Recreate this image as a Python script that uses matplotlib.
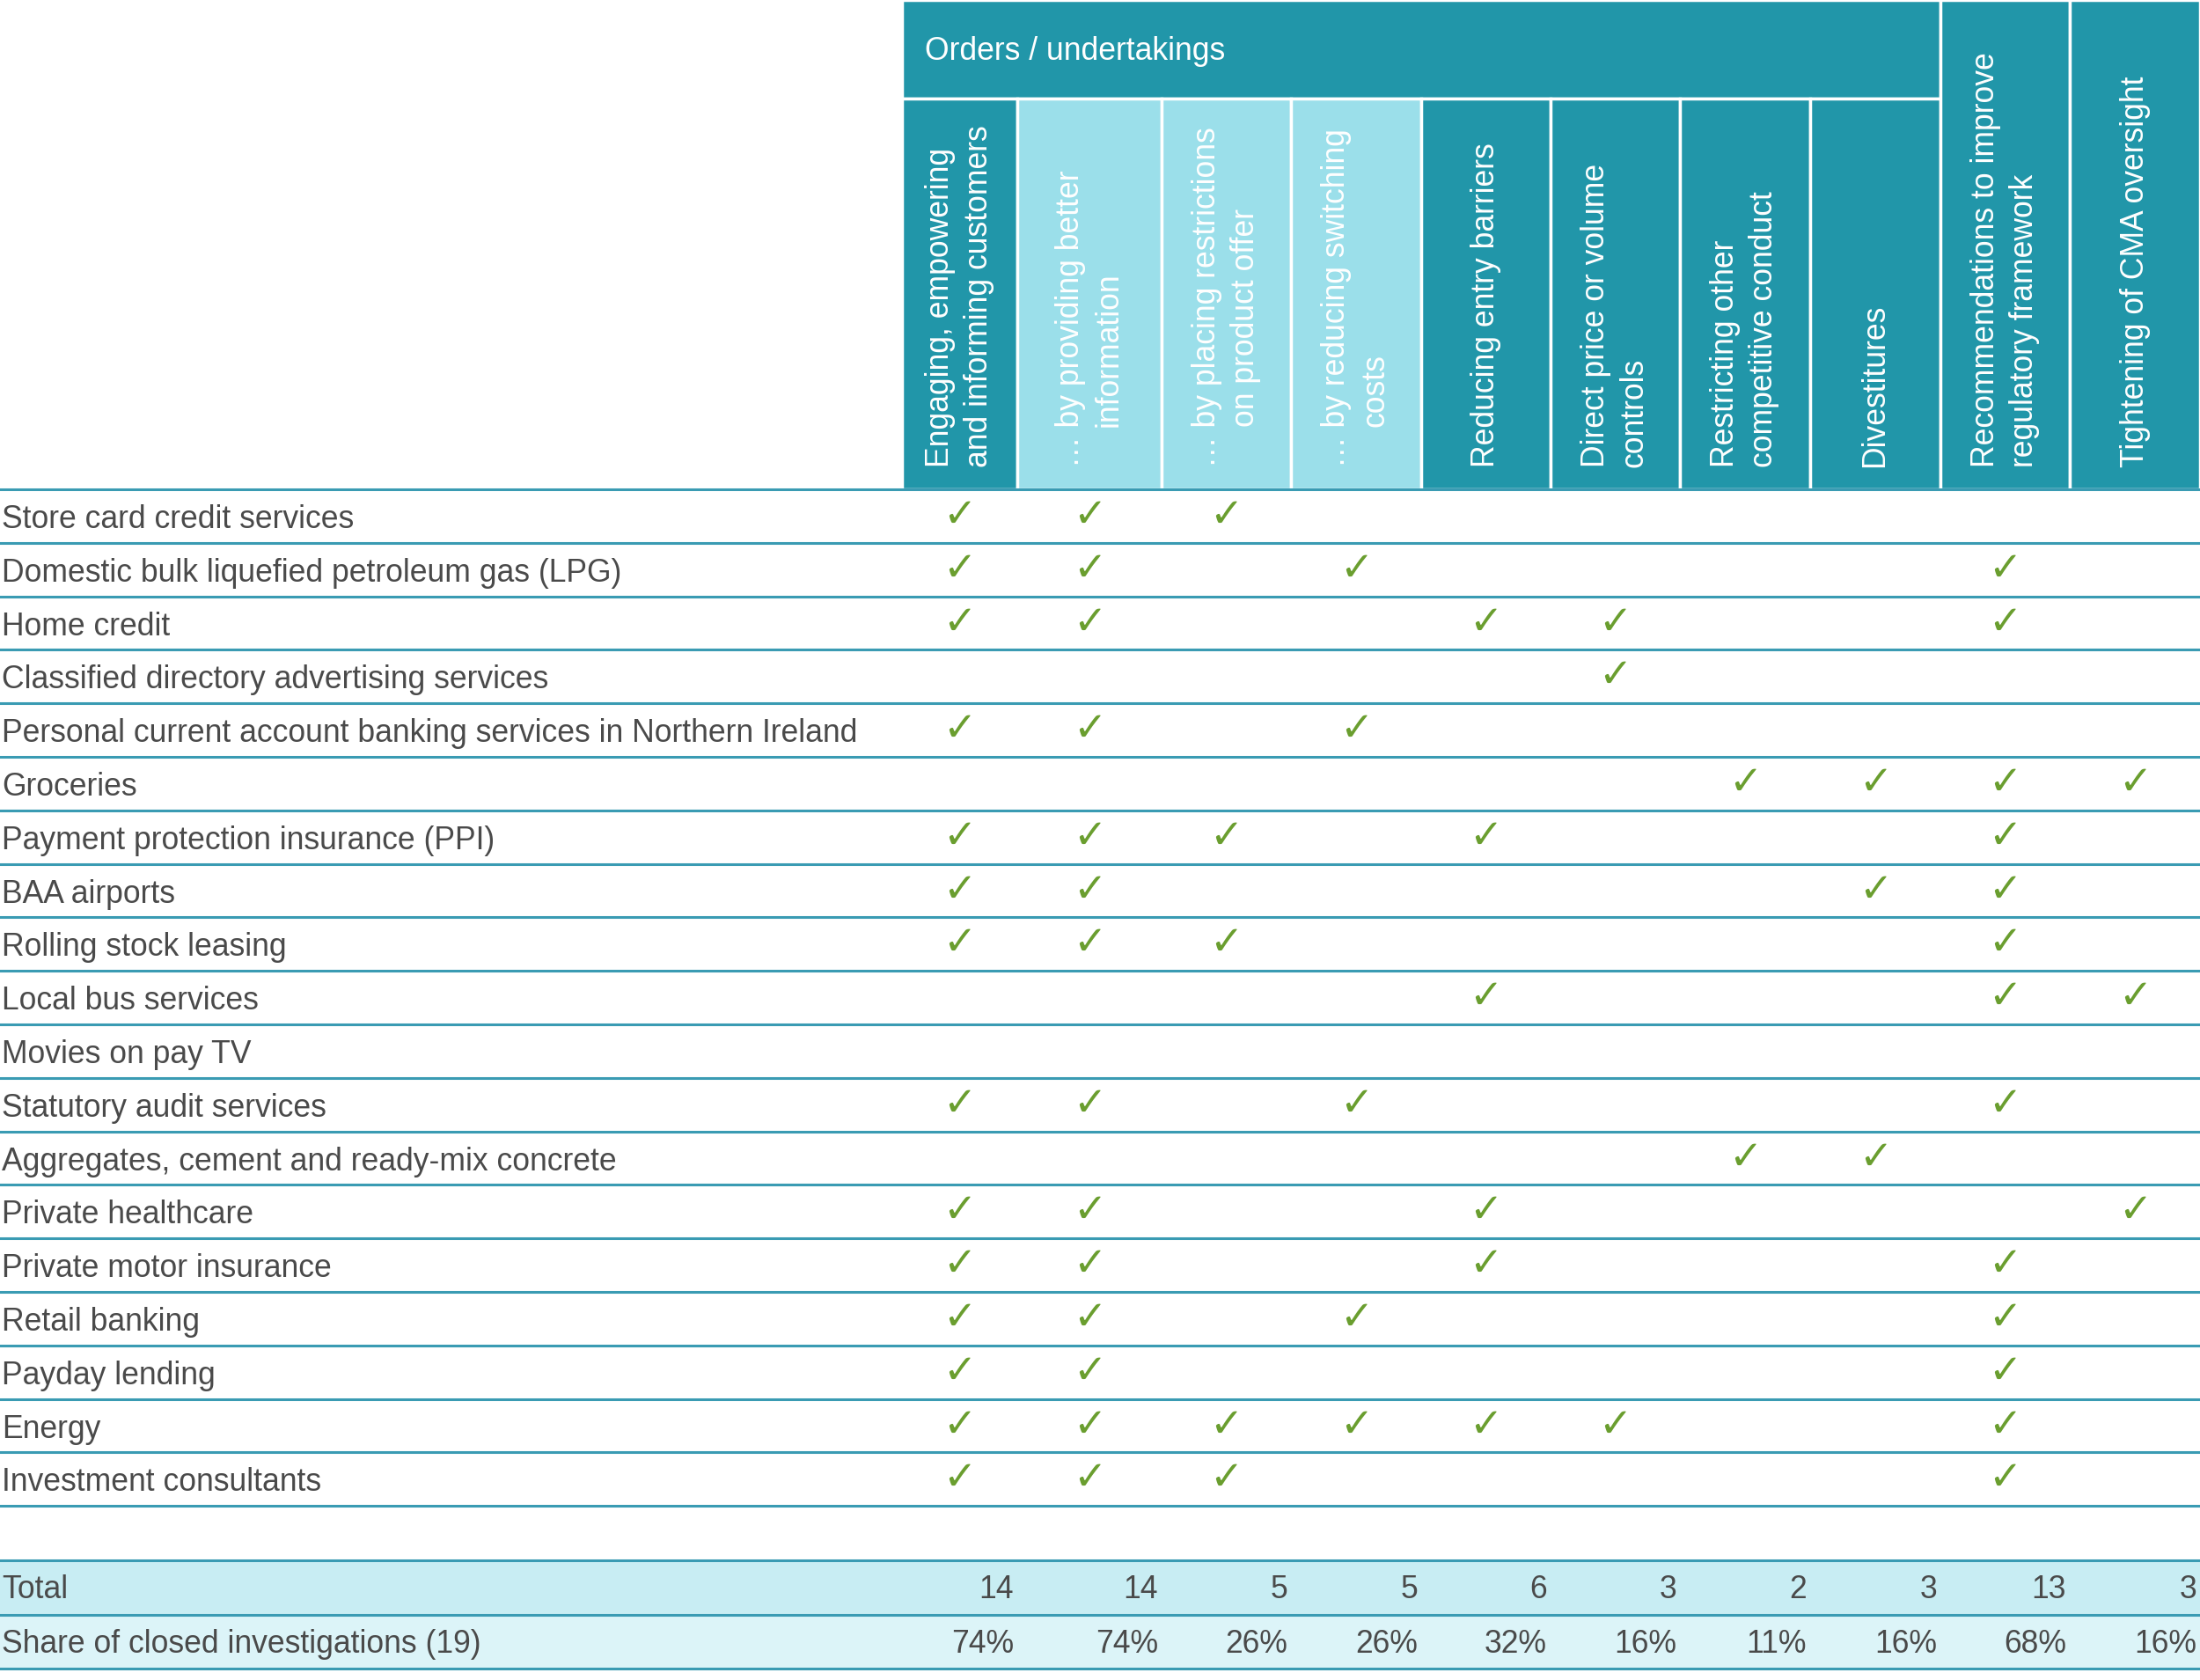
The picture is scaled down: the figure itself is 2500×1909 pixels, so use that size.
import matplotlib.pyplot as plt
from matplotlib.patches import Rectangle

# investigations (rows) and remedy types (columns)
investigations = [
    "Store card credit services",
    "Domestic bulk liquefied petroleum gas (LPG)",
    "Home credit",
    "Classified directory advertising services",
    "Personal current account banking services in Northern Ireland",
    "Groceries",
    "Payment protection insurance (PPI)",
    "BAA airports",
    "Rolling stock leasing",
    "Local bus services",
    "Movies on pay TV",
    "Statutory audit services",
    "Aggregates, cement and ready-mix concrete",
    "Private healthcare",
    "Private motor insurance",
    "Retail banking",
    "Payday lending",
    "Energy",
    "Investment consultants",
]

group_label = "Orders / undertakings"
remedy_headers = [
    ["Engaging, empowering", "and informing customers"],
    ["\u2026 by providing better", "information"],
    ["\u2026 by placing restrictions", "on product offer"],
    ["\u2026 by reducing switching", "costs"],
    ["Reducing entry barriers"],
    ["Direct price or volume", "controls"],
    ["Restricting other", "competitive conduct"],
    ["Divestitures"],
    ["Recommendations to improve", "regulatory framework"],
    ["Tightening of CMA oversight"],
]

# 1 = remedy used in that investigation
checks = [
    [1, 1, 1, 0, 0, 0, 0, 0, 0, 0],
    [1, 1, 0, 1, 0, 0, 0, 0, 1, 0],
    [1, 1, 0, 0, 1, 1, 0, 0, 1, 0],
    [0, 0, 0, 0, 0, 1, 0, 0, 0, 0],
    [1, 1, 0, 1, 0, 0, 0, 0, 0, 0],
    [0, 0, 0, 0, 0, 0, 1, 1, 1, 1],
    [1, 1, 1, 0, 1, 0, 0, 0, 1, 0],
    [1, 1, 0, 0, 0, 0, 0, 1, 1, 0],
    [1, 1, 1, 0, 0, 0, 0, 0, 1, 0],
    [0, 0, 0, 0, 1, 0, 0, 0, 1, 1],
    [0, 0, 0, 0, 0, 0, 0, 0, 0, 0],
    [1, 1, 0, 1, 0, 0, 0, 0, 1, 0],
    [0, 0, 0, 0, 0, 0, 1, 1, 0, 0],
    [1, 1, 0, 0, 1, 0, 0, 0, 0, 1],
    [1, 1, 0, 0, 1, 0, 0, 0, 1, 0],
    [1, 1, 0, 1, 0, 0, 0, 0, 1, 0],
    [1, 1, 0, 0, 0, 0, 0, 0, 1, 0],
    [1, 1, 1, 1, 1, 1, 0, 0, 1, 0],
    [1, 1, 1, 0, 0, 0, 0, 0, 1, 0],
]

total_label = "Total"
totals = [14, 14, 5, 5, 6, 3, 2, 3, 13, 3]
share_label = "Share of closed investigations (19)"
shares = [74, 74, 26, 26, 32, 16, 11, 16, 68, 16]

# colours
TEAL = "#2196a9"
LIGHT = "#9bdfea"
LINE = "#3a9bb3"
TOTAL_BG = "#c8edf3"
SHARE_BG = "#dcf4f8"
TEXT = "#4a4a4a"
GREEN = "#6a9e2f"
FONT = "Liberation Sans"
FS = 25.6

# layout in pixels
W, H = 2500, 1909
col_edges = [1025, 1156, 1320, 1467, 1615, 1762, 1909, 2057, 2205, 2352, 2500]
band_bottom = 112
header_bottom = 556
row_h = 60.8
total_top = 1773
share_top = 1835
share_bottom = 1896
light_cols = [1, 2, 3]
indented_cols = [1, 2, 3]

fig = plt.figure(figsize=(W / 100, H / 100), dpi=100)
ax = fig.add_axes([0, 0, 1, 1])
ax.set_xlim(0, W)
ax.set_ylim(H, 0)
ax.axis("off")

# header cells
ax.add_patch(Rectangle((col_edges[0], 0), col_edges[8] - col_edges[0], band_bottom,
                       facecolor=TEAL, edgecolor="white", lw=2.5))
ax.text(col_edges[0] + 26, band_bottom / 2 + 3, group_label, color="white", fontsize=FS,
        family=FONT, va="center", ha="left")
for i, lines in enumerate(remedy_headers):
    x0, x1 = col_edges[i], col_edges[i + 1]
    top = 0 if i >= 8 else band_bottom
    ax.add_patch(Rectangle((x0, top), x1 - x0, header_bottom - top,
                           facecolor=LIGHT if i in light_cols else TEAL,
                           edgecolor="white", lw=2.5))
    cx = (x0 + x1) / 2
    n = len(lines)
    for k, line in enumerate(lines):
        lx = cx + (k - (n - 1) / 2) * 44
        ly = header_bottom - 25
        if k > 0 and i in indented_cols:
            ly -= 46
        ax.text(lx, ly, line, rotation=90, color="white", fontsize=FS, family=FONT,
                ha="center", va="bottom")

# rows
ax.plot([0, W], [header_bottom, header_bottom], color=LINE, lw=2.2)
for r, name in enumerate(investigations):
    yc = header_bottom + (r + 0.5) * row_h
    ax.text(2, yc + 4, name, color=TEXT, fontsize=FS, family=FONT, va="center", ha="left")
    for c, v in enumerate(checks[r]):
        if v:
            cx = (col_edges[c] + col_edges[c + 1]) / 2
            ax.text(cx, yc, "\u2713", color=GREEN, fontsize=33, family="DejaVu Sans",
                    ha="center", va="center", fontweight="bold")
    yb = header_bottom + (r + 1) * row_h
    ax.plot([0, W], [yb, yb], color=LINE, lw=2.2)

# totals and shares
ax.add_patch(Rectangle((0, total_top), W, share_top - total_top, facecolor=TOTAL_BG, lw=0))
ax.add_patch(Rectangle((0, share_top), W, share_bottom - share_top, facecolor=SHARE_BG, lw=0))
for y in [total_top, share_top, share_bottom]:
    ax.plot([0, W], [y, y], color=LINE, lw=2.2)
ty = (total_top + share_top) / 2 + 3
sy = (share_top + share_bottom) / 2 + 3
ax.text(2, ty, total_label, color=TEXT, fontsize=FS, family=FONT, va="center")
ax.text(2, sy, share_label, color=TEXT, fontsize=FS, family=FONT, va="center")
for c in range(len(totals)):
    rx = col_edges[c + 1] - 4
    ax.text(rx, ty, str(totals[c]), color=TEXT, fontsize=FS, family=FONT, va="center", ha="right")
    ax.text(rx, sy, f"{shares[c]}%", color=TEXT, fontsize=FS, family=FONT, va="center", ha="right")

fig.savefig("out.png", dpi=100)
